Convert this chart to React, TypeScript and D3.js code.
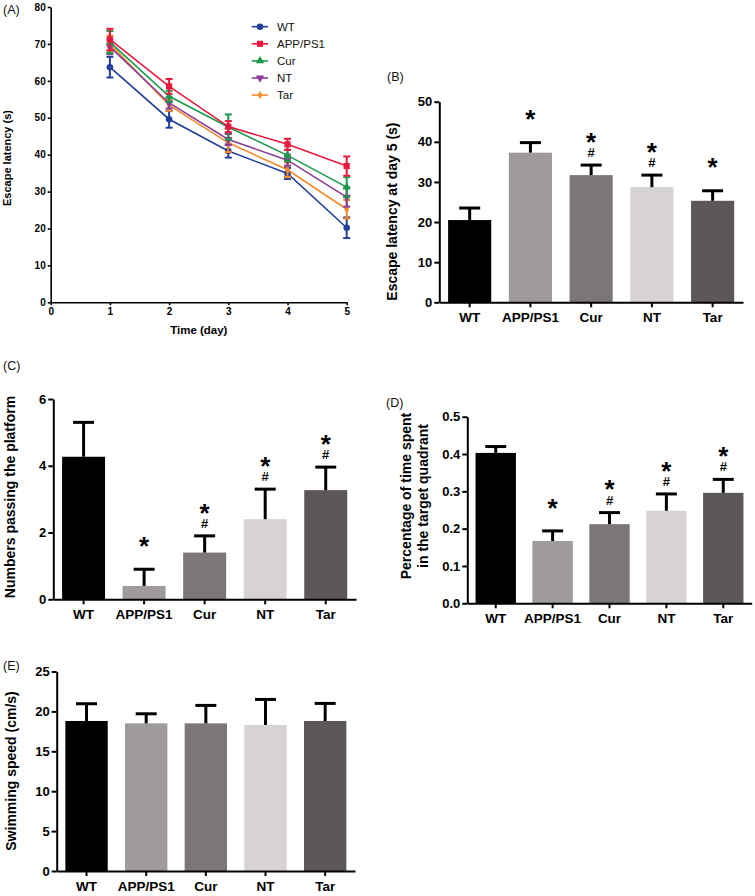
import { useEffect, useRef } from "react";
import * as d3 from "d3";

// groups shared by every panel
const groups = ["WT", "APP/PS1", "Cur", "NT", "Tar"];
const barColors = ["#000000", "#9e9a9d", "#7c7677", "#d7d3d3", "#5c5758"];
const lineColors = ["#22409a", "#e8193c", "#1b9a4c", "#8a3d95", "#f58a2c"];

// (A) escape latency over training days
const days = [1, 2, 3, 4, 5];
const latencyWT = [63.7, 49.6, 41.0, 34.9, 20.2];
const latencyAPP = [71.2, 58.5, 47.6, 42.8, 36.9];
const latencyCur = [70.5, 55.8, 47.5, 39.8, 31.2];
const latencyNT = [69.2, 54.0, 44.1, 38.5, 28.5];
const latencyTar = [70.0, 53.4, 43.2, 35.9, 25.2];
const semWT = [2.8, 2.3, 1.8, 1.5, 2.8];
const semAPP = [2.9, 2.0, 1.5, 1.5, 2.6];
const semCur = [3.0, 1.5, 3.4, 1.5, 2.7];
const semNT = [2.0, 1.5, 1.5, 1.5, 2.6];
const semTar = [2.2, 1.5, 2.5, 2.0, 2.5];

// (B) latency at day 5
const day5Mean = [20.5, 37.3, 31.7, 28.7, 25.3];
const day5Sem = [3.0, 2.5, 2.5, 3.0, 2.5];
const day5Marks = ["", "*", "*#", "*#", "*"];

// (C) platform crossings
const crossMean = [4.27, 0.4, 1.4, 2.4, 3.27];
const crossSem = [1.03, 0.5, 0.5, 0.9, 0.69];
const crossMarks = ["", "*", "*#", "*#", "*#"];

// (D) time in target quadrant
const quadMean = [0.403, 0.167, 0.212, 0.248, 0.296];
const quadSem = [0.017, 0.027, 0.031, 0.045, 0.036];
const quadMarks = ["", "*", "*#", "*#", "*#"];

// (E) swimming speed
const speedMean = [18.8, 18.5, 18.5, 18.3, 18.8];
const speedSem = [2.16, 1.2, 2.25, 3.2, 2.2];
const speedMarks = ["", "", "", "", ""];

const FONT = "'Liberation Sans', Arial, Helvetica, sans-serif";

type Box = { left: number; right: number; top: number; bottom: number };

function styleAxis(sel: any, width: number, fontSize: number) {
  sel.select(".domain").attr("stroke", "#000").attr("stroke-width", width);
  sel.selectAll(".tick line").attr("stroke", "#000").attr("stroke-width", width);
  sel
    .selectAll(".tick text")
    .attr("fill", "#000")
    .attr("font-family", FONT)
    .attr("font-weight", "bold")
    .attr("font-size", fontSize);
}

function drawLinePanel(svg: any) {
  const box: Box = { left: 50.7, right: 346.7, top: 7, bottom: 302.3 };
  const x = d3.scaleLinear().domain([0, 5]).range([box.left, box.right]);
  const y = d3.scaleLinear().domain([0, 80]).range([box.bottom, box.top]);
  const g = svg.append("g");

  const yAxis = d3.axisLeft(y).tickValues(d3.range(0, 81, 10)).tickSize(3).tickSizeOuter(0).tickPadding(2);
  const xAxis = d3
    .axisBottom(x)
    .tickValues([0, 1, 2, 3, 4, 5])
    .tickFormat(d3.format("d") as any)
    .tickSize(3)
    .tickSizeOuter(0)
    .tickPadding(3);
  styleAxis(g.append("g").attr("transform", `translate(${box.left},0)`).call(yAxis), 1.6, 10);
  styleAxis(g.append("g").attr("transform", `translate(0,${box.bottom})`).call(xAxis), 1.6, 10);

  const series = [
    { name: "WT", mean: latencyWT, sem: semWT, color: lineColors[0], shape: d3.symbolCircle, rot: 0, size: 34 },
    { name: "APP/PS1", mean: latencyAPP, sem: semAPP, color: lineColors[1], shape: d3.symbolSquare, rot: 0, size: 38 },
    { name: "Cur", mean: latencyCur, sem: semCur, color: lineColors[2], shape: d3.symbolTriangle, rot: 0, size: 30 },
    { name: "NT", mean: latencyNT, sem: semNT, color: lineColors[3], shape: d3.symbolTriangle, rot: 180, size: 30 },
    { name: "Tar", mean: latencyTar, sem: semTar, color: lineColors[4], shape: d3.symbolDiamond, rot: 0, size: 20 },
  ];
  const order = [0, 4, 3, 2, 1];

  const line = d3
    .line<number>()
    .x((d, i) => x(days[i]))
    .y((d) => y(d));

  order.forEach((k) => {
    const s = series[k];
    const sg = g.append("g");
    sg.append("path").attr("d", line(s.mean)).attr("fill", "none").attr("stroke", s.color).attr("stroke-width", 1.6);
    s.mean.forEach((m, i) => {
      const cx = x(days[i]);
      const y1 = y(m + s.sem[i]);
      const y0 = y(m - s.sem[i]);
      sg.append("line").attr("x1", cx).attr("x2", cx).attr("y1", y0).attr("y2", y1).attr("stroke", s.color).attr("stroke-width", 2);
      [y0, y1].forEach((yy) =>
        sg.append("line").attr("x1", cx - 3.5).attr("x2", cx + 3.5).attr("y1", yy).attr("y2", yy).attr("stroke", s.color).attr("stroke-width", 2)
      );
      sg.append("path")
        .attr("d", d3.symbol().type(s.shape).size(s.size)())
        .attr("transform", `translate(${cx},${y(m)}) rotate(${s.rot})`)
        .attr("fill", s.color);
    });
  });

  // legend
  const lg = g.append("g");
  series.forEach((s, i) => {
    const ly = 26.7 + i * 17.1;
    lg.append("line").attr("x1", 251.7).attr("x2", 268).attr("y1", ly).attr("y2", ly).attr("stroke", s.color).attr("stroke-width", 1.6);
    lg.append("path")
      .attr("d", d3.symbol().type(s.shape).size(s.size)())
      .attr("transform", `translate(260,${ly}) rotate(${s.rot})`)
      .attr("fill", s.color);
    lg.append("text")
      .attr("x", 277)
      .attr("y", ly + 4)
      .attr("font-family", FONT)
      .attr("font-size", 11.5)
      .attr("fill", "#111")
      .text(s.name);
  });

  g.append("text")
    .attr("transform", `translate(11,158) rotate(-90)`)
    .attr("text-anchor", "middle")
    .attr("font-family", FONT)
    .attr("font-weight", "bold")
    .attr("font-size", 11)
    .text("Escape latency (s)");
  g.append("text")
    .attr("x", 198.8)
    .attr("y", 334)
    .attr("text-anchor", "middle")
    .attr("font-family", FONT)
    .attr("font-weight", "bold")
    .attr("font-size", 11.5)
    .text("Time (day)");
}

type BarOpts = {
  box: Box;
  domain: [number, number];
  ticks: number[];
  fmt: (d: number) => string;
  mean: number[];
  sem: number[];
  marks: string[];
  titleLines: string[];
  titleX: number[];
  titleY: number;
};

function drawBarPanel(svg: any, o: BarOpts) {
  const { box } = o;
  const g = svg.append("g");
  const x = d3.scaleBand().domain(groups).range([box.left, box.right]).paddingInner(0.29).paddingOuter(0.145);
  const y = d3.scaleLinear().domain(o.domain).range([box.bottom, box.top]);
  const bw = x.bandwidth();

  g.selectAll(".bar")
    .data(o.mean)
    .join("rect")
    .attr("class", "bar")
    .attr("x", (d: number, i: number) => x(groups[i]))
    .attr("y", (d: number) => y(d))
    .attr("width", bw)
    .attr("height", (d: number) => box.bottom - y(d))
    .attr("fill", (d: number, i: number) => barColors[i]);

  o.mean.forEach((m, i) => {
    const cx = (x(groups[i]) as number) + bw / 2;
    const top = y(m + o.sem[i]);
    g.append("line").attr("x1", cx).attr("x2", cx).attr("y1", y(m)).attr("y2", top).attr("stroke", "#000").attr("stroke-width", 3);
    g.append("line").attr("x1", cx - 10.5).attr("x2", cx + 10.5).attr("y1", top).attr("y2", top).attr("stroke", "#000").attr("stroke-width", 3);

    // significance marks: one text per bar, "*" over "#"
    const mk = o.marks[i];
    if (!mk) return;
    const t = g
      .append("text")
      .attr("text-anchor", "middle")
      .attr("font-family", FONT)
      .attr("font-weight", "bold")
      .attr("fill", "#000");
    if (mk.includes("*")) {
      const cy = top - 26;
      t.append("tspan")
        .attr("x", cx)
        .attr("y", cy + 0.45 * 26)
        .attr("font-size", 26)
        .text("*");
    }
    if (mk.includes("#")) {
      const cy = top - 12.5;
      t.append("tspan")
        .attr("x", cx)
        .attr("y", cy + 0.35 * 13)
        .attr("font-size", 13)
        .text("#");
    }
  });

  const yAxis = d3.axisLeft(y).tickValues(o.ticks).tickFormat(o.fmt as any).tickSize(5).tickSizeOuter(0).tickPadding(2);
  const xAxis = d3.axisBottom(x).tickSize(5).tickSizeOuter(0).tickPadding(5);
  styleAxis(g.append("g").attr("transform", `translate(${box.left},0)`).call(yAxis), 2, 13);
  const xg = g.append("g").attr("transform", `translate(0,${box.bottom})`).call(xAxis);
  styleAxis(xg, 2, 13.5);

  o.titleLines.forEach((t, i) => {
    g.append("text")
      .attr("transform", `translate(${o.titleX[i]},${o.titleY}) rotate(-90)`)
      .attr("text-anchor", "middle")
      .attr("font-family", FONT)
      .attr("font-weight", "bold")
      .attr("font-size", 14)
      .text(t);
  });
}

const panelLabels = [
  { t: "(A)", x: 3, y: 14 },
  { t: "(B)", x: 387, y: 81 },
  { t: "(C)", x: 3, y: 369.5 },
  { t: "(D)", x: 386, y: 407 },
  { t: "(E)", x: 3, y: 669.5 },
];

export default function App() {
  const svgRef = useRef<SVGSVGElement>(null);

  useEffect(() => {
    const svg = d3.select(svgRef.current);
    svg.selectAll("*").remove();

    drawLinePanel(svg);

    drawBarPanel(svg, {
      box: { left: 439.3, right: 743, top: 101.7, bottom: 302.3 },
      domain: [0, 50],
      ticks: [0, 10, 20, 30, 40, 50],
      fmt: (d) => String(d),
      mean: day5Mean,
      sem: day5Sem,
      marks: day5Marks,
      titleLines: ["Escape latency at day 5 (s)"],
      titleX: [397],
      titleY: 211.6,
    });

    drawBarPanel(svg, {
      box: { left: 53.3, right: 356, top: 399, bottom: 599.3 },
      domain: [0, 6],
      ticks: [0, 2, 4, 6],
      fmt: (d) => String(d),
      mean: crossMean,
      sem: crossSem,
      marks: crossMarks,
      titleLines: ["Numbers passing the platform"],
      titleX: [15.4],
      titleY: 497,
    });

    drawBarPanel(svg, {
      box: { left: 467.3, right: 751.7, top: 416.7, bottom: 603.3 },
      domain: [0, 0.5],
      ticks: [0, 0.1, 0.2, 0.3, 0.4, 0.5],
      fmt: d3.format(".1f"),
      mean: quadMean,
      sem: quadSem,
      marks: quadMarks,
      titleLines: ["Percentage of time spent", "in the target quadrant"],
      titleX: [411, 428],
      titleY: 496,
    });

    drawBarPanel(svg, {
      box: { left: 56.7, right: 355, top: 671.5, bottom: 871 },
      domain: [0, 25],
      ticks: [0, 5, 10, 15, 20, 25],
      fmt: (d) => String(d),
      mean: speedMean,
      sem: speedSem,
      marks: speedMarks,
      titleLines: ["Swimming speed (cm/s)"],
      titleX: [15.5],
      titleY: 771,
    });

    panelLabels.forEach((p) =>
      svg
        .append("text")
        .attr("x", p.x)
        .attr("y", p.y)
        .attr("font-family", FONT)
        .attr("font-size", 12.5)
        .attr("fill", "#111")
        .text(p.t)
    );
  }, []);

  return (
    <div style={{ position: "absolute", left: 0, top: 0 }}>
      <svg ref={svgRef} width={755} height={896} style={{ display: "block", background: "#fff" }} />
    </div>
  );
}
